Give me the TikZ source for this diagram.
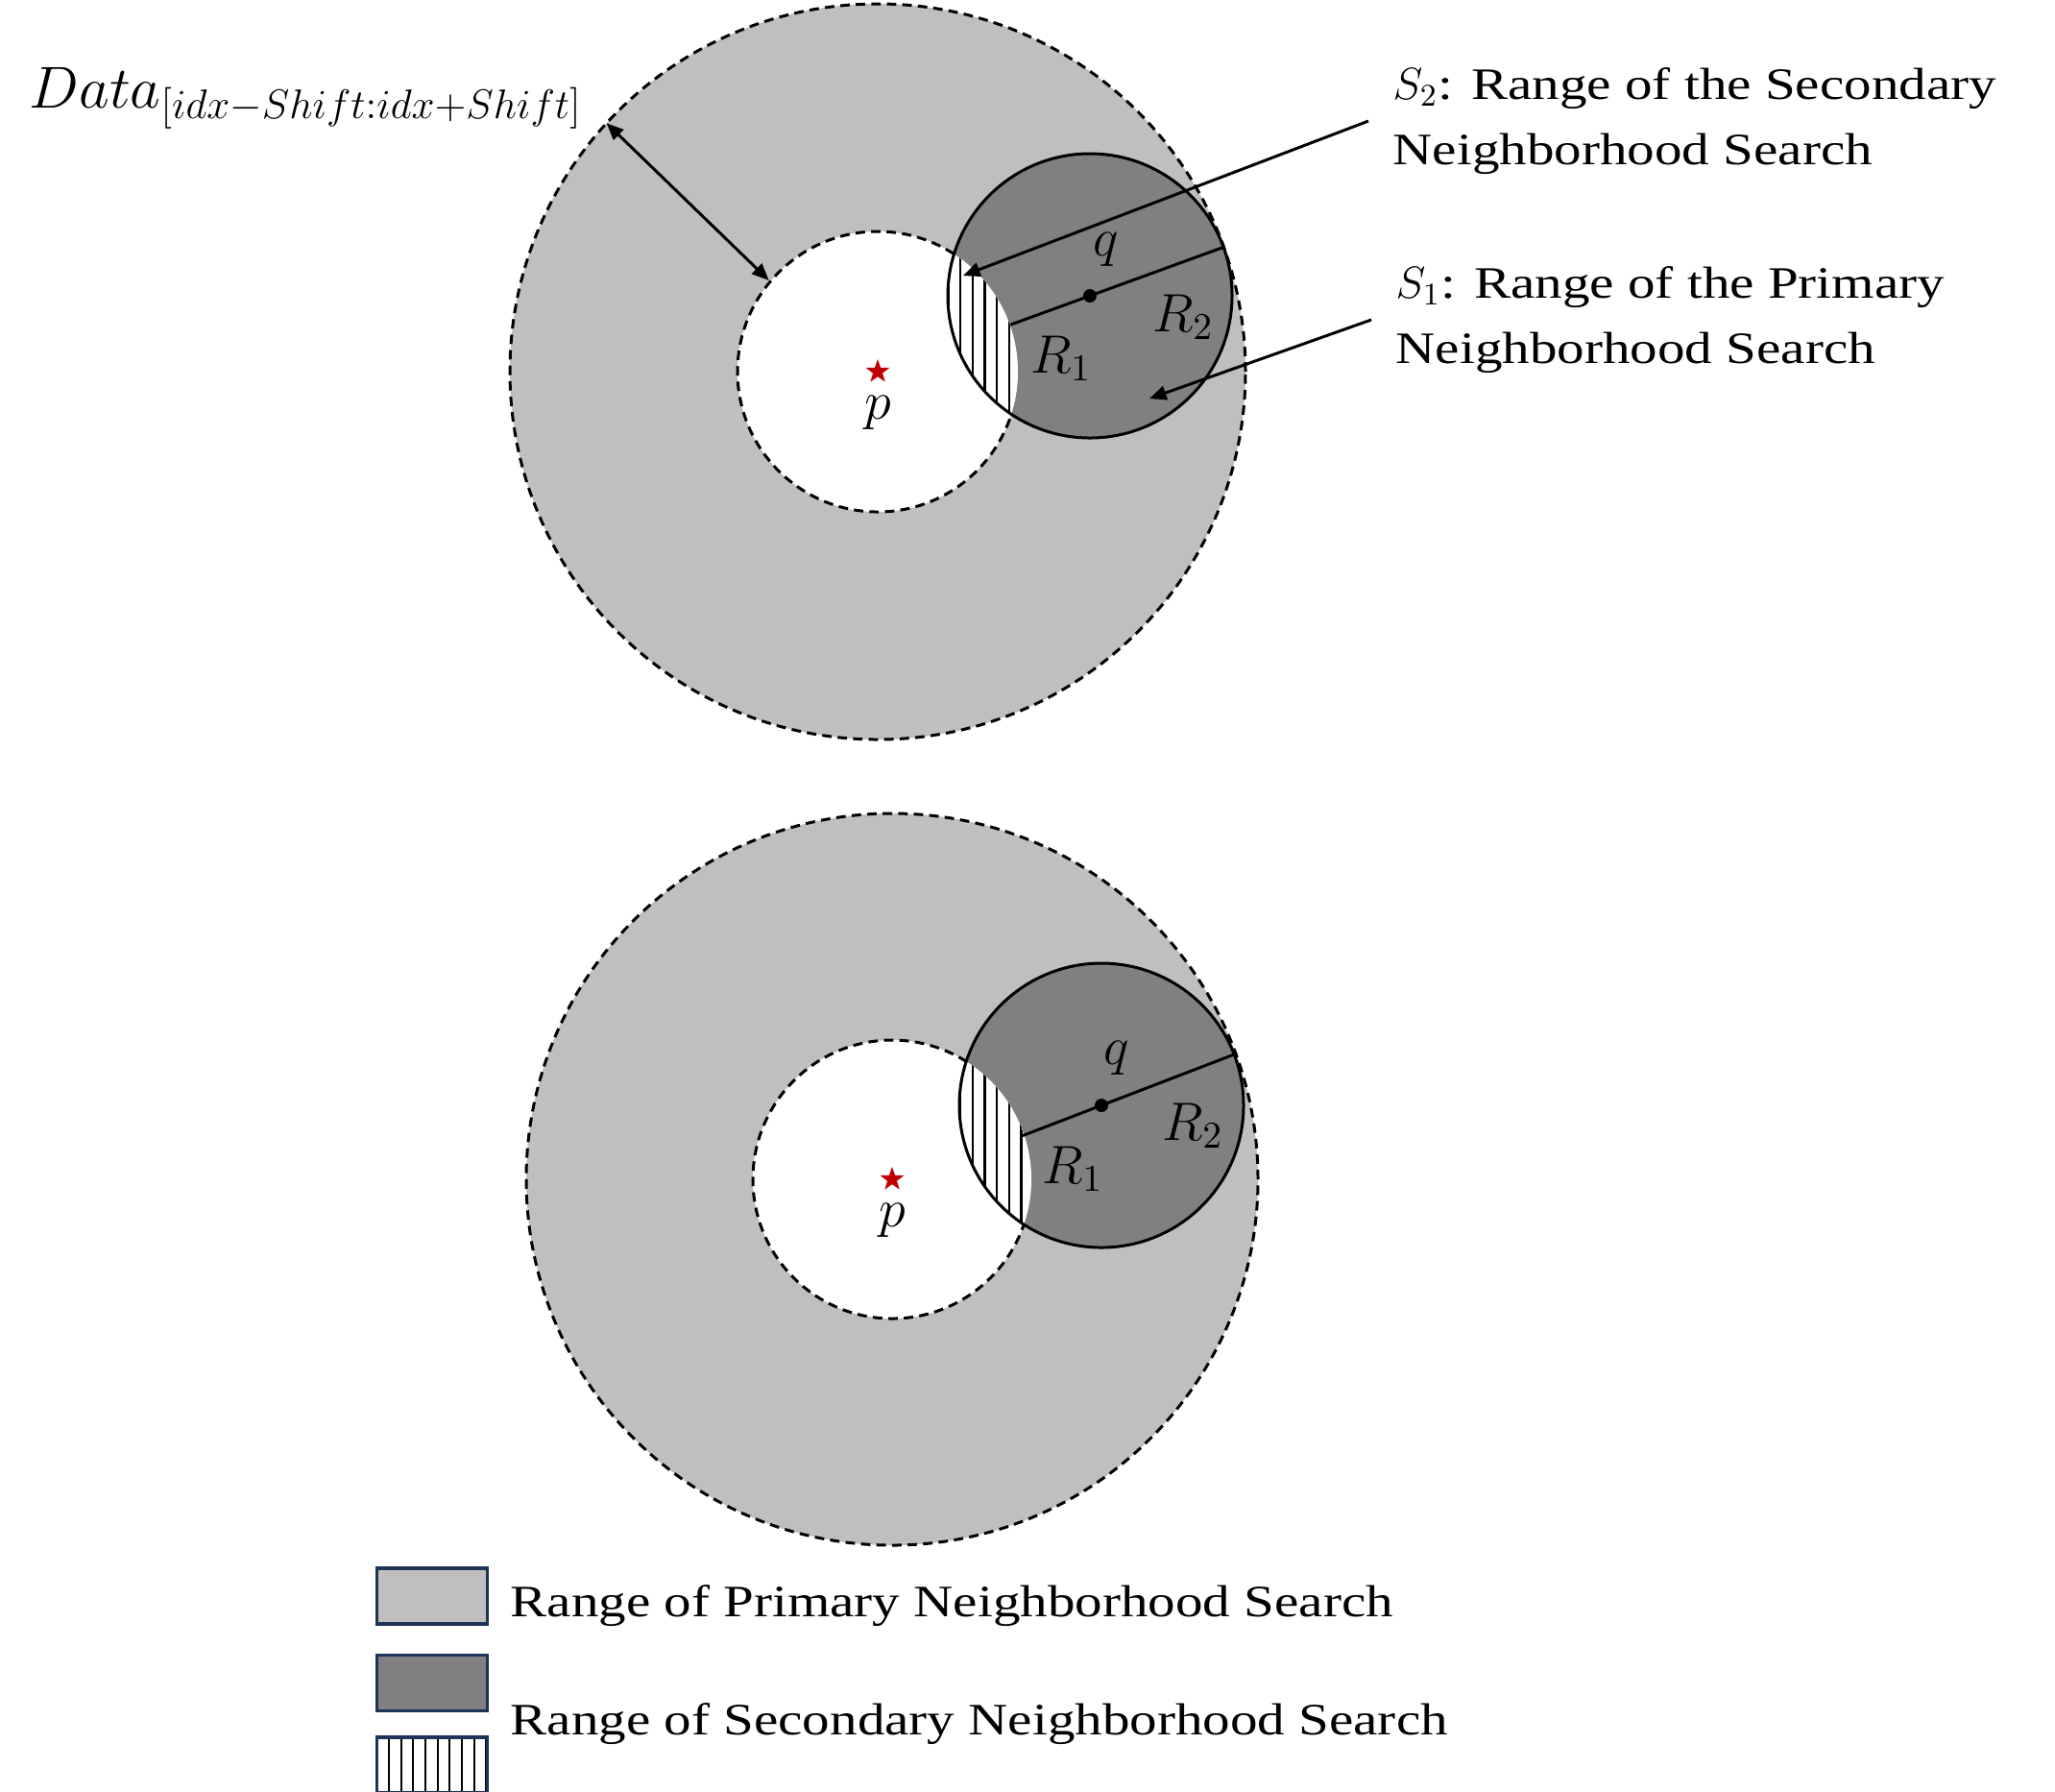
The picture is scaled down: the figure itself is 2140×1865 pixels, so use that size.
\documentclass[tikz,border=0pt]{standalone}
\usepackage{fix-cm}
\usepackage{fontspec}
\setmainfont{Liberation Serif}[FakeStretch=1.22]
\usetikzlibrary{arrows.meta,positioning,shapes.geometric,patterns.meta,calc}
\definecolor{ringgrey}{RGB}{191,191,191}
\definecolor{diskgrey}{RGB}{128,128,128}
\definecolor{starred}{RGB}{192,0,0}
\definecolor{legendnavy}{RGB}{31,50,90}

\begin{document}
\begin{tikzpicture}[x=0.01cm, y=0.01cm,
    ring/.style={fill=ringgrey, draw=black, line width=0.85pt, dash pattern=on 2.8pt off 1.8pt},
    hole/.style={fill=white, draw=black, line width=0.85pt, dash pattern=on 2.8pt off 1.8pt},
    disk/.style={draw=black, line width=0.85pt},
    hatch/.style={pattern={Lines[angle=90, distance=3.6pt, line width=0.6pt]}},
    pointer/.style={-{Triangle[length=5pt, width=4.2pt]}, line width=0.85pt},
    twoway/.style={{Triangle[length=5pt, width=4.2pt]}-{Triangle[length=5pt, width=4.2pt]}, line width=0.85pt},
    pstar/.style={star, star points=5, star point ratio=2.5, fill=starred, minimum size=0.26cm, inner sep=0pt},
    mlabel/.style={font=\fontsize{16}{18}\selectfont, inner sep=0pt},
    tlabel/.style={font=\fontsize{13.3}{19.5}\selectfont, align=left},
    legbox/.style={draw=legendnavy, line width=1pt, minimum width=1.15cm, minimum height=0.58cm, inner sep=0pt}]

    \useasboundingbox (0,0) rectangle (2140,-1865);

    % upper search range
    \coordinate (p1) at (914,-387);
    \coordinate (q1) at (1135,-308);
    \draw[ring] (p1) circle[radius=383];
    \draw[hole] (p1) circle[radius=146];
    \fill[diskgrey] (q1) circle[radius=148];
    \begin{scope}
        \clip (q1) circle[radius=148];
        \fill[white] (p1) circle[radius=146];
        \fill[hatch] (p1) circle[radius=146];
    \end{scope}
    \draw[disk] (q1) circle[radius=148];
    \coordinate (rin1) at ($(q1)+(200:88)$);
    \coordinate (rout1) at ($(q1)+(20:148)$);
    \draw[disk] (rin1) -- (rout1);
    \fill (q1) circle[radius=7];

    \node[pstar] (star1) at (p1) {};
    \node[mlabel] (plab1) at ($(p1)+(0,-43)$) {$p$};
    \node[mlabel] (qlab1) at ($(q1)+(17,48)$) {$q$};
    \node[mlabel] (rone1) at ($(q1)+(-30,-65)$) {$R_1$};
    \node[mlabel] (rtwo1) at ($(q1)+(97,-22)$) {$R_2$};

    \node[anchor=base west, inner sep=0pt, font=\fontsize{17.5}{20}\selectfont] (datalab) at (30,-112) {$Data_{[idx-Shift:idx+Shift]}$};
    \coordinate (wout) at ($(p1)+(137.5:383)$);
    \coordinate (win) at ($(p1)+(140:148)$);
    \draw[twoway] (wout) -- (win);

    \node[tlabel, anchor=west, inner sep=0.25cm] (s2lab) at (1425,-126) {$S_2$: Range of the Secondary\\Neighborhood Search};
    \node[tlabel, anchor=west, inner sep=0.25cm] (s1lab) at (1428,-333) {$S_1$: Range of the Primary\\Neighborhood Search};
    \coordinate (s2tip) at (1003,-287);
    \coordinate (s1tip) at (1197,-415);
    \draw[pointer] (s2lab.west) -- (s2tip);
    \draw[pointer] (s1lab.west) -- (s1tip);

    % lower search range
    \coordinate (p2) at (929,-1228);
    \coordinate (q2) at (1147,-1151);
    \draw[ring] (p2) circle[radius=381];
    \draw[hole] (p2) circle[radius=145];
    \fill[diskgrey] (q2) circle[radius=148];
    \begin{scope}
        \clip (q2) circle[radius=148];
        \fill[white] (p2) circle[radius=145];
        \fill[hatch] (p2) circle[radius=145];
    \end{scope}
    \draw[disk] (q2) circle[radius=148];
    \coordinate (rin2) at ($(q2)+(201:88)$);
    \coordinate (rout2) at ($(q2)+(21:148)$);
    \draw[disk] (rin2) -- (rout2);
    \fill (q2) circle[radius=7];

    \node[pstar] (star2) at (p2) {};
    \node[mlabel] (plab2) at ($(p2)+(0,-43)$) {$p$};
    \node[mlabel] (qlab2) at ($(q2)+(16,49)$) {$q$};
    \node[mlabel] (rone2) at ($(q2)+(-30,-66)$) {$R_1$};
    \node[mlabel] (rtwo2) at ($(q2)+(95,-21)$) {$R_2$};

    % legend
    \node[legbox, fill=ringgrey] (legring) at (450,-1662) {};
    \node[legbox, fill=diskgrey, below=0.29cm of legring] (legdisk) {};
    \node[legbox, hatch, below=0.24cm of legdisk] (leghatch) {};
    \node[tlabel, right=0.1cm of legring, yshift=-0.1cm] (legringtext) {Range of Primary Neighborhood Search};
    \node[tlabel, anchor=west] (legdisktext) at ($(legdisk.east)!0.5!(leghatch.east)+(10,0)$) {Range of Secondary Neighborhood Search};
\end{tikzpicture}
\end{document}
